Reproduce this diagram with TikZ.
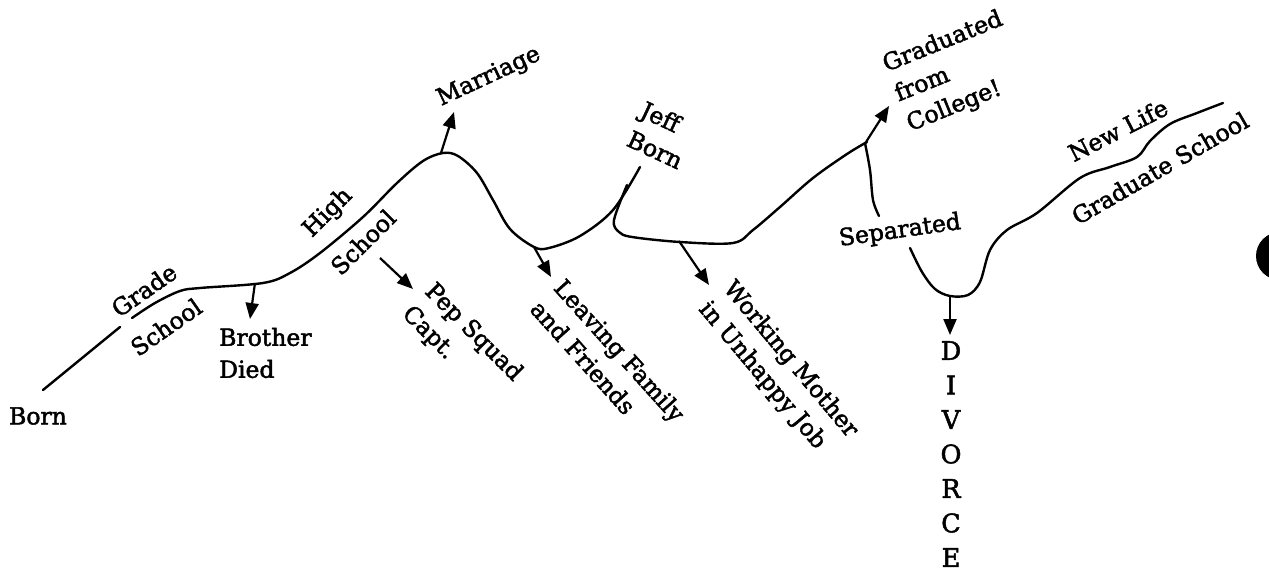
\documentclass[tikz,border=0pt]{standalone}
\usepackage{fontspec}
% slightly heavier ink for the lettering
\setmainfont{DejaVu Serif}[FakeBold=2]
\usetikzlibrary{arrows.meta}
\begin{document}
\begin{tikzpicture}[x=1pt,y=-1pt,
  life/.style={line width=2.4pt,line cap=round,line join=round},
  event/.style={line width=2.2pt,-{Triangle[length=16pt,width=13pt]}},
  lbl/.style={font=\fontsize{23.5}{32}\selectfont,inner sep=0pt,align=left},
  lblc/.style={font=\fontsize{25.5}{34.5}\selectfont,inner sep=0pt,align=center}]
\useasboundingbox (0,0) rectangle (1269,572);

% branch points on the life line
\coordinate (brother) at (255,283);
\coordinate (peak) at (441,153);
\coordinate (trough) at (534,247);
\coordinate (work) at (679,241);
\coordinate (grad) at (866,142);
\coordinate (bottom) at (950,296);
% free arrow ends
\coordinate (pepS) at (380,258);
\coordinate (pepT) at (413,289);
\coordinate (brotherT) at (250,319);
\coordinate (marriageT) at (454,112);
\coordinate (leavingT) at (551,277);
\coordinate (workT) at (709,285);
\coordinate (gradT) at (889,106);
\coordinate (divorceT) at (950,335);

% the life line
\draw[life] (43,390) -- (120,327);
\draw[life] plot[smooth,tension=0.55] coordinates {
  (132,318) (155,303) (180,291) (200,288) (263,283) (290,273) (320,253)
  (363,217) (397,183) (423,161) (443,153) (458,156) (477,173) (493,200)
  (510,229) (534,247) (549,248) (580,236) (613,210) (640,167)};
\draw[life] plot[smooth,tension=0.55] coordinates {
  (627,185) (614,220) (619,232) (632,237) (680,242) (733,243) (753,230)
  (780,207) (813,178) (847,154) (867,142)};
\draw[life] plot[smooth,tension=0.55] coordinates {
  (865,143) (870,170) (873,200) (879,216)};
\draw[life] plot[smooth,tension=0.55] coordinates {
  (910,248) (922,272) (935,289) (950,296) (968,295) (980,282) (990,250)
  (1007,230) (1037,213) (1080,178) (1110,167) (1137,157) (1150,141)
  (1170,124) (1197,113) (1223,103)};

% event arrows
\draw[event] (brother) -- (brotherT);
\draw[event] (pepS) -- (pepT);
\draw[event] (peak) -- (marriageT);
\draw[event] (trough) -- (leavingT);
\draw[event] (work) -- (workT);
\draw[event] (grad) -- (gradT);
\draw[event] (bottom) -- (divorceT);

% labels
\node[lbl] (born) at (38,416) {Born};
\node[lbl,rotate=35] (grade1) at (144,290) {Grade};
\node[lbl,rotate=35] (grade2) at (166,327) {School};
\node[lbl,anchor=west] (died) at (219,353) {Brother\\Died};
\node[lbl,rotate=45] (high1) at (328,213) {High};
\node[lbl,rotate=45] (high2) at (363,242) {School};
\node[lbl,rotate=25] (marriage) at (489,77) {Marriage};
\node[lbl,rotate=-45] (pep) at (462,344) {Pep Squad\\Capt.};
\node[lbl,rotate=-48] (leaving) at (608,361) {Leaving Family\\and Friends};
\node[lbl,rotate=-25] (jeff) at (662,135) {Jeff\\Born};
\node[lbl,rotate=-50] (working) at (778,370) {Working Mother\\in Unhappy Job};
\node[lbl,rotate=22] (graduated) at (955,72) {Graduated\\from\\College!};
\node[lbl,rotate=8] (separated) at (900,231) {Separated};
\node[lblc] (divorce) at (951,454) {D\\I\\V\\O\\R\\C\\E};
\node[lbl,rotate=27] (newlife) at (1118,130) {New Life};
\node[lbl,rotate=30] (gradschool) at (1160,168) {Graduate School};

% punch hole at the right margin
\begin{scope}
\clip (0,0) rectangle (1269,572);
\fill (1280,256) circle (24);
\end{scope}
\end{tikzpicture}
\end{document}
